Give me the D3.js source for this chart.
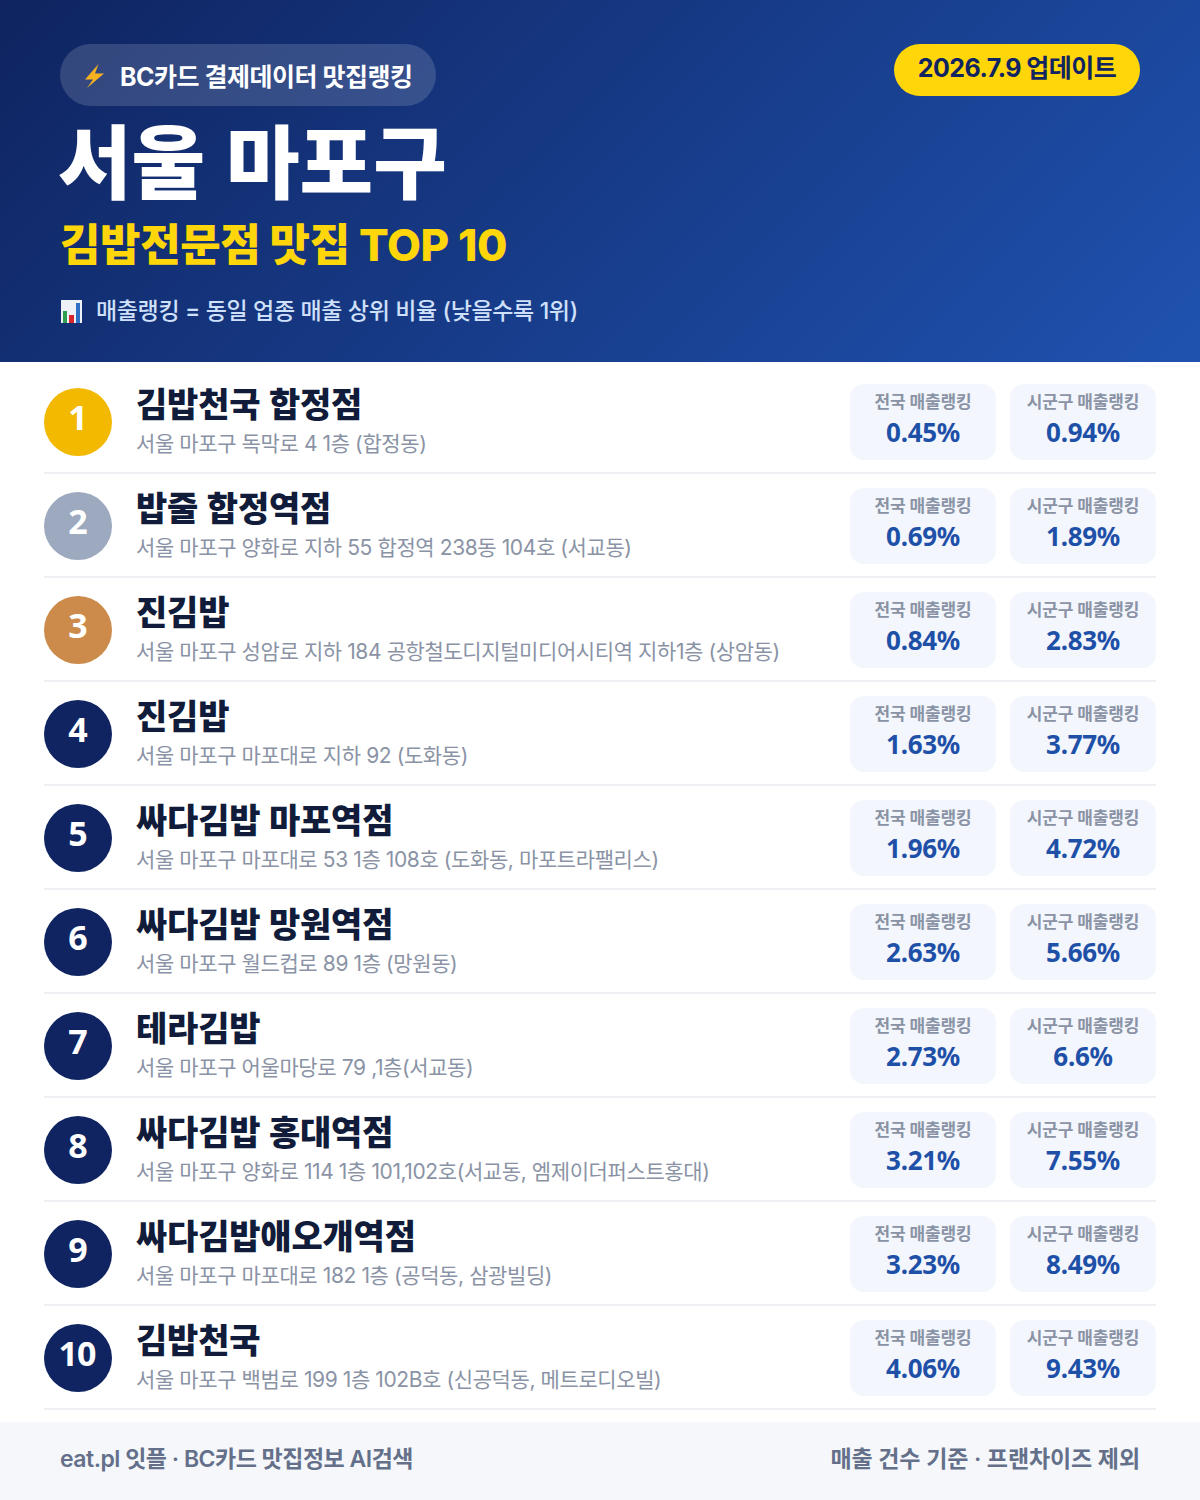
<!DOCTYPE html>
<html lang="ko">
<head>
<meta charset="utf-8">
<script src="https://cdn.jsdelivr.net/npm/d3@7"></script>
<style>
	html, body { margin: 0; padding: 0; background: #fff; }
	svg { display: block; }
</style>
</head>
<body>
<svg id="chart" width="1200" height="1500" font-family="Inter, 'Noto Sans CJK KR', sans-serif"></svg>
<script>
const names = ["김밥천국 합정점", "밥줄 합정역점", "진김밥", "진김밥", "싸다김밥 마포역점", "싸다김밥 망원역점", "테라김밥", "싸다김밥 홍대역점", "싸다김밥애오개역점", "김밥천국"];
const addresses = [
	"서울 마포구 독막로 4 1층 (합정동)",
	"서울 마포구 양화로 지하 55 합정역 238동 104호 (서교동)",
	"서울 마포구 성암로 지하 184 공항철도디지털미디어시티역 지하1층 (상암동)",
	"서울 마포구 마포대로 지하 92 (도화동)",
	"서울 마포구 마포대로 53 1층 108호 (도화동, 마포트라팰리스)",
	"서울 마포구 월드컵로 89 1층 (망원동)",
	"서울 마포구 어울마당로 79 ,1층(서교동)",
	"서울 마포구 양화로 114 1층 101,102호(서교동, 엠제이더퍼스트홍대)",
	"서울 마포구 마포대로 182 1층 (공덕동, 삼광빌딩)",
	"서울 마포구 백범로 199 1층 102B호 (신공덕동, 메트로디오빌)"
];
const nationalRank = ["0.45%", "0.69%", "0.84%", "1.63%", "1.96%", "2.63%", "2.73%", "3.21%", "3.23%", "4.06%"];
const districtRank = ["0.94%", "1.89%", "2.83%", "3.77%", "4.72%", "5.66%", "6.6%", "7.55%", "8.49%", "9.43%"];
const rankLabels = ["전국 매출랭킹", "시군구 매출랭킹"];
const medalColours = ["#f2b900", "#9ca9be", "#cc8b4a"];

// digits and big headings sit closer to Noto Sans, the rest to Inter
const notoFont = "'Noto Sans', 'Noto Sans CJK KR', sans-serif";

const svg = d3.select("#chart");
const defs = svg.append("defs");

// same geometry as a css 135deg gradient on the header box
const grad = defs.append("linearGradient")
	.attr("id", "headerGrad")
	.attr("gradientUnits", "userSpaceOnUse")
	.attr("x1", 209.5).attr("y1", -209.5)
	.attr("x2", 990.5).attr("y2", 571.5);
grad.append("stop").attr("offset", "0%").attr("stop-color", "#0f2460");
grad.append("stop").attr("offset", "100%").attr("stop-color", "#1f52b0");

function label(holder, x, y, str, size, weight, fill, anchor, spacing) {
	return holder.append("text")
		.attr("x", x).attr("y", y)
		.attr("font-size", size)
		.attr("font-weight", weight)
		.attr("fill", fill)
		.attr("text-anchor", anchor || "start")
		.attr("letter-spacing", spacing || 0)
		.text(str);
}

// header
const header = svg.append("g");
header.append("rect").attr("width", 1200).attr("height", 362).attr("fill", "url(#headerGrad)");
header.append("rect").attr("x", 60).attr("y", 44).attr("width", 376).attr("height", 62).attr("rx", 31)
	.attr("fill", "#fff").attr("fill-opacity", 0.15);
// lightning icon
header.append("path")
	.attr("d", "M98.5 64 L85 79.5 L93 79.5 L87 88 L104 73.5 L95 73.5 Z")
	.attr("fill", "#f5b21e");
label(header, 120, 86, "BC카드 결제데이터 맛집랭킹", 25, 700, "#fff", "start", -0.5);

header.append("rect").attr("x", 894).attr("y", 44).attr("width", 246).attr("height", 52).attr("rx", 26).attr("fill", "#ffd60a");
label(header, 1017, 77, "2026.7.9 업데이트", 25, 700, "#0f2460", "middle", -0.5);

label(header, 58, 192, "서울 마포구", 80, 900, "#fff", "start", 0).attr("font-family", notoFont);
label(header, 60, 261, "김밥전문점 맛집 TOP 10", 44, 800, "#ffd60a", "start", -0.4);

// bar chart icon
const icon = header.append("g");
icon.append("rect").attr("x", 61).attr("y", 300).attr("width", 21).attr("height", 23).attr("fill", "#eef1f6");
icon.append("rect").attr("x", 63).attr("y", 311).attr("width", 4).attr("height", 12).attr("fill", "#2e9e4f");
icon.append("rect").attr("x", 69).attr("y", 315).attr("width", 5).attr("height", 8).attr("fill", "#d9262e");
icon.append("rect").attr("x", 76).attr("y", 303).attr("width", 4).attr("height", 20).attr("fill", "#2f6fc4");
label(header, 96, 319, "매출랭킹 = 동일 업종 매출 상위 비율 (낮을수록 1위)", 23, 500, "#cfe0fb", "start", -0.36);

// rows
const rowScale = d3.scaleBand()
	.domain(d3.range(names.length))
	.range([370, 1410]);
const statX = d3.scaleBand()
	.domain(rankLabels)
	.range([850, 1156])
	.paddingInner(14 / 160);

const rows = svg.selectAll(".row")
	.data(names.map((name, i) => ({
		name: name,
		address: addresses[i],
		stats: [nationalRank[i], districtRank[i]],
		rank: i + 1
	})))
	.enter().append("g")
	.attr("class", "row")
	.attr("transform", (d, i) => "translate(0," + rowScale(i) + ")");

rows.append("rect")
	.attr("x", 44).attr("y", 102).attr("width", 1112).attr("height", 2)
	.attr("fill", "#eef0f4");

rows.append("circle")
	.attr("cx", 78).attr("cy", 52).attr("r", 34)
	.attr("fill", d => d.rank <= 3 ? medalColours[d.rank - 1] : "#0f2460");

rows.append("text")
	.attr("x", d => d.rank == 10 ? 77 : 78).attr("y", 60)
	.attr("text-anchor", "middle")
	.attr("font-family", notoFont)
	.attr("font-size", 34)
	.attr("letter-spacing", d => d.rank == 10 ? -1 : 0)
	.attr("font-weight", 700)
	.attr("fill", "#fff")
	.text(d => d.rank);

rows.append("text")
	.attr("x", 136).attr("y", 47)
	.attr("font-family", notoFont)
	.attr("font-size", 34).attr("font-weight", 800)
	.attr("letter-spacing", -0.2)
	.attr("fill", "#111c3a")
	.text(d => d.name);

rows.append("text")
	.attr("x", 136).attr("y", 81)
	.attr("font-size", 21).attr("font-weight", 400)
	.attr("letter-spacing", -0.4)
	.attr("fill", "#8a93a5")
	.text(d => d.address);

rankLabels.forEach((rankLabel, k) => {
	const x = statX(rankLabel), w = statX.bandwidth();
	rows.append("rect")
		.attr("x", x).attr("y", 14).attr("width", w).attr("height", 76).attr("rx", 14)
		.attr("fill", "#f3f6fc");
	label(rows, x + w / 2, 37.5, rankLabel, 17, 600, "#8a93a5", "middle", -0.15);
	rows.append("text")
		.attr("x", x + w / 2).attr("y", 71.5)
		.attr("text-anchor", "middle")
		.attr("font-family", notoFont)
		.attr("font-size", 26).attr("font-weight", 700)
		.attr("letter-spacing", -0.3)
		.attr("fill", "#1e50a8")
		.text(d => d.stats[k]);
});

// footer
const footer = svg.append("g");
footer.append("rect").attr("y", 1422).attr("width", 1200).attr("height", 78).attr("fill", "#f5f7fb");
label(footer, 60, 1467, "eat.pl 잇플 · BC카드 맛집정보 AI검색", 23, 600, "#64708a", "start", -0.5);
label(footer, 1140, 1467, "매출 건수 기준 · 프랜차이즈 제외", 23, 600, "#64708a", "end", -0.1);
</script>
</body>
</html>
